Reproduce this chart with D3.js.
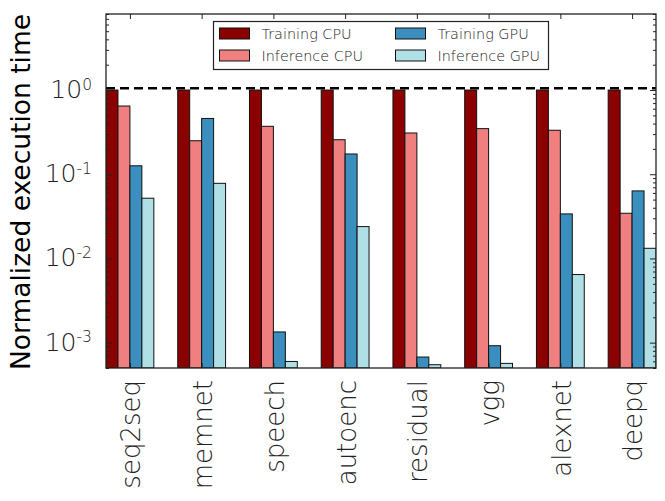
<!DOCTYPE html>
<html>
<head>
<meta charset="utf-8">
<script src="https://cdn.jsdelivr.net/npm/d3@7"></script>
<style>
  html, body { margin: 0; padding: 0; background: #fff; }
  svg { display: block; font-family: "DejaVu Sans", sans-serif; }
</style>
</head>
<body>
<div id="chart"></div>
<script>
// benchmarks along the x axis
const models = ['seq2seq', 'memnet', 'speech', 'autoenc', 'residual', 'vgg', 'alexnet', 'deepq'];

// normalized execution time per series
const trainingCPU  = [1.0, 1.0, 1.0, 1.0, 1.0, 1.0, 1.0, 1.0];
const inferenceCPU = [0.646, 0.25, 0.371, 0.257, 0.309, 0.348, 0.333, 0.0344];
const trainingGPU  = [0.126, 0.46, 0.00134, 0.174, 0.000675, 0.000919, 0.0338, 0.0634];
const inferenceGPU = [0.0519, 0.078, 0.000598, 0.0239, 0.000547, 0.000567, 0.00644, 0.0132];

const seriesNames = ['Training CPU', 'Inference CPU', 'Training GPU', 'Inference GPU'];
const seriesValues = [trainingCPU, inferenceCPU, trainingGPU, inferenceGPU];
const seriesColors = ['#8b0000', '#f08080', '#3a8fbf', '#b0e0e6'];

const yDecades = [1e-3, 1e-2, 1e-1, 1];
const baseline = 1.05; // dashed reference line

const W = 665, H = 501;
const plot = { left: 106, right: 656, top: 14, bottom: 368 };
const barW = 1 / 6;

const svg = d3.select('#chart').append('svg')
  .attr('width', W).attr('height', H);

const x = d3.scaleLinear()
  .domain([0, models.length - 1 + 4 * barW])
  .range([plot.left, plot.right]);

const y = d3.scaleLog()
  .domain([5e-4, 8])
  .range([plot.bottom, plot.top]);

svg.append('clipPath').attr('id', 'clip')
  .append('rect')
  .attr('x', plot.left).attr('y', plot.top)
  .attr('width', plot.right - plot.left).attr('height', plot.bottom - plot.top);

// bars
const bars = [];
seriesValues.forEach((vals, j) => {
  vals.forEach((v, i) => bars.push({ i, j, v }));
});

svg.append('g').attr('clip-path', 'url(#clip)')
  .selectAll('rect')
  .data(bars)
  .join('rect')
  .attr('x', (d) => x(d.i + d.j * barW))
  .attr('width', (d) => x(barW) - x(0))
  .attr('y', (d) => y(d.v))
  .attr('height', (d) => plot.bottom - y(d.v))
  .attr('fill', (d) => seriesColors[d.j])
  .attr('stroke', '#111')
  .attr('stroke-width', 1);

// dashed line at 1
svg.append('line')
  .attr('x1', plot.left).attr('x2', plot.right)
  .attr('y1', y(baseline)).attr('y2', y(baseline))
  .attr('stroke', '#000')
  .attr('stroke-width', 2.5)
  .attr('stroke-dasharray', '9,5');

// axes
const minor = y.ticks().filter((t) => !yDecades.some((d) => Math.abs(d - t) / d < 1e-6));
const tickFont = '"DejaVu Sans", sans-serif';

function styleAxis(g) {
  g.select('.domain').remove();
  g.selectAll('.tick line').attr('stroke', '#222').attr('stroke-width', 1);
}

svg.append('g')
  .attr('transform', `translate(${plot.left},0)`)
  .call(d3.axisLeft(y).tickValues(minor).tickSize(-3).tickFormat(''))
  .call(styleAxis);
svg.append('g')
  .attr('transform', `translate(${plot.right},0)`)
  .call(d3.axisRight(y).tickValues(minor).tickSize(-3).tickFormat(''))
  .call(styleAxis);
svg.append('g')
  .attr('transform', `translate(${plot.right},0)`)
  .call(d3.axisRight(y).tickValues(yDecades).tickSize(-6).tickFormat(''))
  .call(styleAxis);

const yAxis = svg.append('g')
  .attr('transform', `translate(${plot.left},0)`)
  .call(d3.axisLeft(y).tickValues(yDecades).tickSize(-6).tickPadding(14))
  .call(styleAxis);

yAxis.selectAll('.tick text')
  .attr('fill', '#222')
  .attr('font-family', tickFont)
  .attr('font-weight', 200)
  .attr('font-size', 25)
  .attr('dy', '0.3em')
  .each(function(d) {
    const t = d3.select(this);
    const exp = Math.round(Math.log10(d));
    t.text('');
    t.append('tspan').text('10');
    t.append('tspan').attr('dy', '-0.55em').attr('font-size', '0.62em').text(String(exp));
  });

const centers = models.map((m, i) => i + 2 * barW);
svg.append('g')
  .attr('transform', `translate(0,${plot.top})`)
  .call(d3.axisTop(x).tickValues(centers).tickSize(-5).tickFormat(''))
  .call(styleAxis);
svg.append('g')
  .attr('transform', `translate(0,${plot.bottom})`)
  .call(d3.axisBottom(x).tickValues(centers).tickSize(-5).tickFormat(''))
  .call(styleAxis);

// x labels, rotated
svg.append('g')
  .selectAll('text')
  .data(models)
  .join('text')
  .attr('transform', (d, i) => `translate(${x(centers[i]) + 1},380) rotate(-90)`)
  .attr('text-anchor', 'end')
  .attr('dy', '0.36em')
  .attr('font-family', tickFont)
  .attr('font-weight', 200)
  .attr('font-size', 26)
  .attr('fill', '#222')
  .text((d) => d);

// frame
svg.append('rect')
  .attr('x', plot.left).attr('y', plot.top)
  .attr('width', plot.right - plot.left).attr('height', plot.bottom - plot.top)
  .attr('fill', 'none')
  .attr('stroke', '#222')
  .attr('stroke-width', 1.3);

// y title
svg.append('text')
  .attr('transform', `translate(30,${(plot.top + plot.bottom) / 2 + 1}) rotate(-90)`)
  .attr('text-anchor', 'middle')
  .attr('font-size', 26.5)
  .attr('fill', '#000')
  .text('Normalized execution time');

// legend
const legend = svg.append('g');
legend.append('rect')
  .attr('x', 213.5).attr('y', 21.5)
  .attr('width', 335).attr('height', 48)
  .attr('fill', '#fff')
  .attr('stroke', '#222')
  .attr('stroke-width', 1.2);

const items = legend.selectAll('g.item')
  .data(seriesNames)
  .join('g')
  .attr('class', 'item')
  .attr('transform', (d, k) => `translate(${k < 2 ? 219.5 : 395.5},${k % 2 === 0 ? 28 : 50})`);

items.append('rect')
  .attr('width', 30).attr('height', 11)
  .attr('fill', (d, k) => seriesColors[k])
  .attr('stroke', '#111')
  .attr('stroke-width', 1);

items.append('text')
  .attr('x', 42).attr('y', 5.5)
  .attr('dy', '0.36em')
  .attr('font-family', tickFont)
  .attr('font-weight', 200)
  .attr('font-size', 14.4)
  .attr('fill', '#222')
  .text((d) => d);
</script>
</body>
</html>
